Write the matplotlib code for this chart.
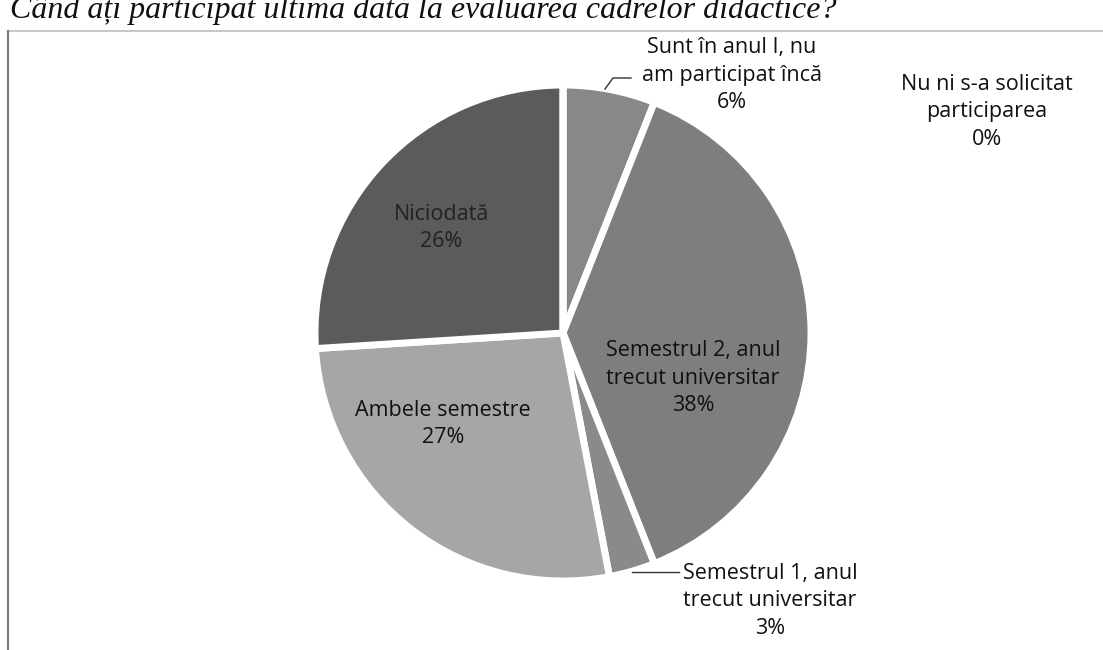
import matplotlib
matplotlib.use("Agg")
import matplotlib.pyplot as plt
from matplotlib.lines import Line2D

categories = ["Sunt în anul I, nu\nam participat încă",
              "Semestrul 2, anul\ntrecut universitar",
              "Semestrul 1, anul\ntrecut universitar",
              "Ambele semestre",
              "Niciodată",
              "Nu ni s-a solicitat\nparticiparea"]
values = [6, 38, 3, 27, 26, 0]
colors = ["#888888", "#7e7e7e", "#8a8a8a", "#a6a6a6", "#5b5b5b", "#bbbbbb"]
title = "Când ați participat ultima dată la evaluarea cadrelor didactice?"

W, H = 1103, 650
fig = plt.figure(figsize=(W / 100, H / 100), dpi=100)
ax = fig.add_axes([0, 0, 1, 1])
ax.set_xlim(0, W)
ax.set_ylim(0, H)
ax.set_aspect("equal")
ax.axis("off")

cx, cy, R = 563, H - 333, 248
wedges, _ = ax.pie(values, colors=colors, startangle=90, counterclock=False,
                   center=(cx, cy), radius=R, frame=True,
                   wedgeprops=dict(edgecolor="white", linewidth=5))
ax.set_xlim(0, W)
ax.set_ylim(0, H)
ax.axis("off")

font = "Open Sans"
fs = 15.5

def lab(i, x, y, color="#111111"):
    ax.text(x, H - y, f"{categories[i]}\n{values[i]}%", ha="center", va="center",
            fontsize=fs, family=font, color=color, linespacing=1.38)

lab(0, 732, 75)
lab(1, 693, 378)
lab(2, 770, 601)
lab(3, 443, 424)
lab(4, 441, 228, color="#222222")
lab(5, 987, 112)

# leader lines
ax.plot([605, 613, 631], [H - 89, H - 78, H - 78], color="#333333", lw=1)
ax.plot([632, 679], [H - 572, H - 572], color="#333333", lw=1)

# frame lines
fig.add_artist(Line2D([8 / W, 1], [1 - 31 / H, 1 - 31 / H], color="#c8c8c8", lw=1.5))
fig.add_artist(Line2D([8 / W, 8 / W], [0, 1 - 31 / H], color="#777777", lw=1.5))

# cropped title (the reference shows it cut by the top edge)
fig.text(10 / W, 1 - 18 / H, title, ha="left", va="baseline", fontsize=23,
         family="Liberation Serif", style="italic", color="#111111")

fig.savefig("out.png", dpi=100)
